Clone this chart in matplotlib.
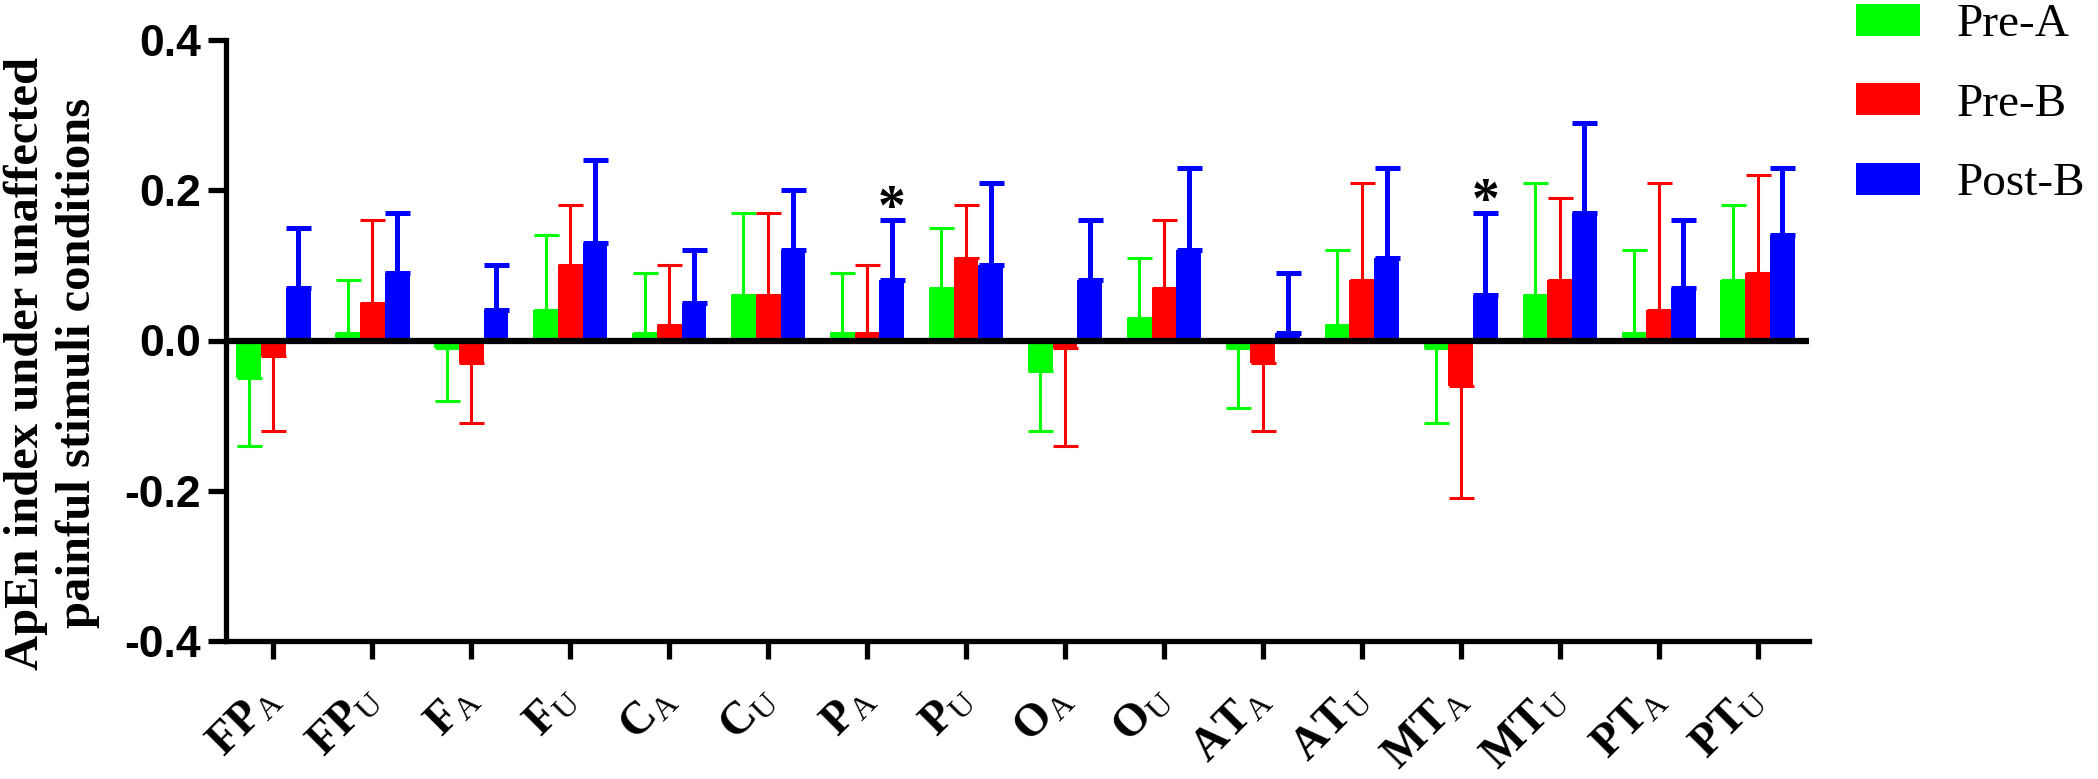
import matplotlib

matplotlib.use("Agg")

import matplotlib.pyplot as plt
import matplotlib.transforms as mtransforms
import numpy as np

plt.rcParams["font.family"] = ["Liberation Sans", "DejaVu Sans"]
plt.rcParams["mathtext.fontset"] = "custom"
plt.rcParams["mathtext.rm"] = "Liberation Serif"
plt.rcParams["mathtext.bf"] = "Liberation Serif:bold"
plt.rcParams["mathtext.it"] = "Liberation Serif:italic"

# data
groups = ["FP", "FP", "F", "F", "C", "C", "P", "P", "O", "O", "AT", "AT", "MT", "MT", "PT", "PT"]
sides = ["A", "U"] * 8
series = ["Pre-A", "Pre-B", "Post-B"]
colors = ["#00ff00", "#ff0000", "#0000ff"]

pre_a_mean = [-0.05, 0.01, -0.01, 0.04, 0.01, 0.06, 0.01, 0.07, -0.04, 0.03, -0.01, 0.02, -0.01, 0.06, 0.01, 0.08]
pre_a_sd = [0.09, 0.07, 0.07, 0.10, 0.08, 0.11, 0.08, 0.08, 0.08, 0.08, 0.08, 0.10, 0.10, 0.15, 0.11, 0.10]
pre_b_mean = [-0.02, 0.05, -0.03, 0.10, 0.02, 0.06, 0.01, 0.11, -0.01, 0.07, -0.03, 0.08, -0.06, 0.08, 0.04, 0.09]
pre_b_sd = [0.10, 0.11, 0.08, 0.08, 0.08, 0.11, 0.09, 0.07, 0.13, 0.09, 0.09, 0.13, 0.15, 0.11, 0.17, 0.13]
post_b_mean = [0.07, 0.09, 0.04, 0.13, 0.05, 0.12, 0.08, 0.10, 0.08, 0.12, 0.01, 0.11, 0.06, 0.17, 0.07, 0.14]
post_b_sd = [0.08, 0.08, 0.06, 0.11, 0.07, 0.08, 0.08, 0.11, 0.08, 0.11, 0.08, 0.12, 0.11, 0.12, 0.09, 0.09]

# Post-B groups marked with *
star_idx = [6, 12]

means = [pre_a_mean, pre_b_mean, post_b_mean]
sds = [pre_a_sd, pre_b_sd, post_b_sd]
elw = [2.2, 2.2, 3.6]

fig = plt.figure(figsize=(20.98, 7.79), dpi=100)
ax = fig.add_axes([226 / 2098, 1 - 641 / 779, (1809 - 226) / 2098, (641 - 40) / 779])

x = np.arange(len(groups))
width = 0.25
handles = []
for k in range(3):
    m = np.array(means[k])
    s = np.array(sds[k])
    xs = x + (k - 1) * width
    b = ax.bar(xs, m, width=width, color=colors[k], edgecolor="none", zorder=2, label=series[k])
    handles.append(b)
    lower = np.where(m < 0, s, 0.0)
    upper = np.where(m >= 0, s, 0.0)
    ax.errorbar(xs, m, yerr=[lower, upper], fmt="none", ecolor=colors[k],
                elinewidth=elw[k], capsize=9, capthick=elw[k], zorder=1)

post = np.array(post_b_mean) + np.array(post_b_sd)
for i in star_idx:
    ax.annotate("*", xy=(x[i] + width, post[i]), xytext=(0, -3), textcoords="offset points",
                ha="center", va="baseline", fontsize=40, fontweight="bold",
                family="Liberation Serif")

ax.axhline(0, color="black", lw=4.5, zorder=3)

ax.set_xlim(-0.48, 15.52)
ax.set_ylim(-0.4, 0.4)
ax.set_yticks([-0.4, -0.2, 0.0, 0.2, 0.4])
ax.set_yticklabels(["-0.4", "-0.2", "0.0", "0.2", "0.4"], fontsize=32, fontweight="bold")
ax.set_xticks(x)
ax.set_xticklabels([r"$\mathbf{%s}_{\mathrm{%s}}$" % (g, s) for g, s in zip(groups, sides)],
                   fontsize=33, rotation=45, ha="right", va="center", rotation_mode="anchor")
offset = mtransforms.ScaledTranslation(30 / 100, 0, fig.dpi_scale_trans)
for lab in ax.get_xticklabels():
    lab.set_transform(lab.get_transform() + offset)

for side in ["top", "right"]:
    ax.spines[side].set_visible(False)
for side in ["left", "bottom"]:
    ax.spines[side].set_linewidth(3.8)
ax.tick_params(axis="both", direction="out", length=13, width=3.8, color="black")
ax.tick_params(axis="y", pad=5)
ax.tick_params(axis="x", pad=24)

fig.text(52 / 2098, 1 - 363 / 779, "ApEn index under unaffected\npainful stimuli conditions",
         rotation=90, ha="center", va="center", multialignment="center",
         fontsize=35, fontweight="bold", family="Liberation Serif", linespacing=1.22)

fig.legend(handles=handles, labels=series, loc="upper left",
           bbox_to_anchor=(1856 / 2098, 1 - 4 / 779), frameon=False,
           prop={"family": "Liberation Serif", "size": 34},
           handlelength=1.36, handleheight=0.66, labelspacing=0.78,
           handletextpad=0.78, borderpad=0, borderaxespad=0)

fig.savefig("out.png", dpi=100)
